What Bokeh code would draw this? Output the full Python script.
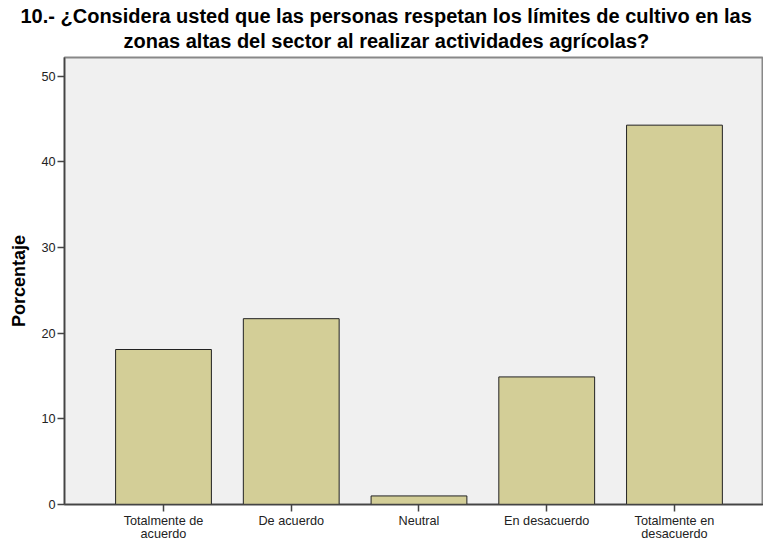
from bokeh.plotting import figure
from bokeh.models import Range1d, FixedTicker, Title, ColumnDataSource
from bokeh.embed import file_html
from bokeh.resources import INLINE

categories = ["Totalmente de\nacuerdo", "De acuerdo", "Neutral", "En desacuerdo", "Totalmente en\ndesacuerdo"]
percentages = [18.1, 21.7, 1.0, 14.9, 44.3]
y_ticks = [0, 10, 20, 30, 40, 50]
title_line1 = "10.- ¿Considera usted que las personas respetan los límites de cultivo en las"
title_line2 = "zonas altas del sector al realizar actividades agrícolas?"

positions = list(range(1, len(categories) + 1))
source = ColumnDataSource(dict(x=positions, top=percentages))

p = figure(width=763, height=543, output_backend="svg", toolbar_location=None,
           x_range=Range1d(0.225, 5.697), y_range=Range1d(0, 52.2),
           min_border_left=64, min_border_right=0, min_border_bottom=36, min_border_top=0)
p.title = None

def title(txt, size, standoff, offset):
    return Title(text=txt, align="left", text_font="Liberation Sans",
                 text_font_size=size, text_font_style="bold", text_color="#000000",
                 standoff=standoff, offset=offset)

p.add_layout(title(title_line2, "20px", 12, 59), "above")
p.add_layout(title(title_line1, "20px", -11, -44), "above")
p.add_layout(title(" ", "5px", 0, 0), "above")

p.vbar(x="x", top="top", width=0.75, source=source, fill_color="#D3CE97",
       line_color="#222222", line_width=1)

p.background_fill_color = "#F0F0F0"
p.border_fill_color = "white"
p.outline_line_color = "#888888"
p.outline_line_width = 2
p.xgrid.visible = False
p.ygrid.visible = False

p.yaxis.ticker = FixedTicker(ticks=y_ticks)
p.yaxis.axis_label = "Porcentaje"
p.yaxis.axis_label_text_font = "Liberation Sans"
p.yaxis.axis_label_text_font_size = "18px"
p.yaxis.axis_label_text_font_style = "bold"
p.yaxis.axis_label_text_color = "#000000"
p.yaxis.axis_label_standoff = 9

p.xaxis.ticker = FixedTicker(ticks=positions)
p.xaxis.major_label_overrides = {i: c for i, c in zip(positions, categories)}
p.xaxis.major_label_text_line_height = 0.95

for ax in (p.xaxis, p.yaxis):
    ax.axis_line_color = "#444444"
    ax.axis_line_width = 1.5
    ax.major_tick_line_color = "#444444"
    ax.major_tick_line_width = 1.5
    ax.major_tick_out = 7
    ax.major_tick_in = 0
    ax.minor_tick_line_color = None
    ax.major_label_text_font = "Liberation Sans"
    ax.major_label_text_font_size = "12.7px"
    ax.major_label_text_color = "#222222"
    ax.major_label_standoff = 2

open("out.html", "w").write(file_html(p, INLINE))
